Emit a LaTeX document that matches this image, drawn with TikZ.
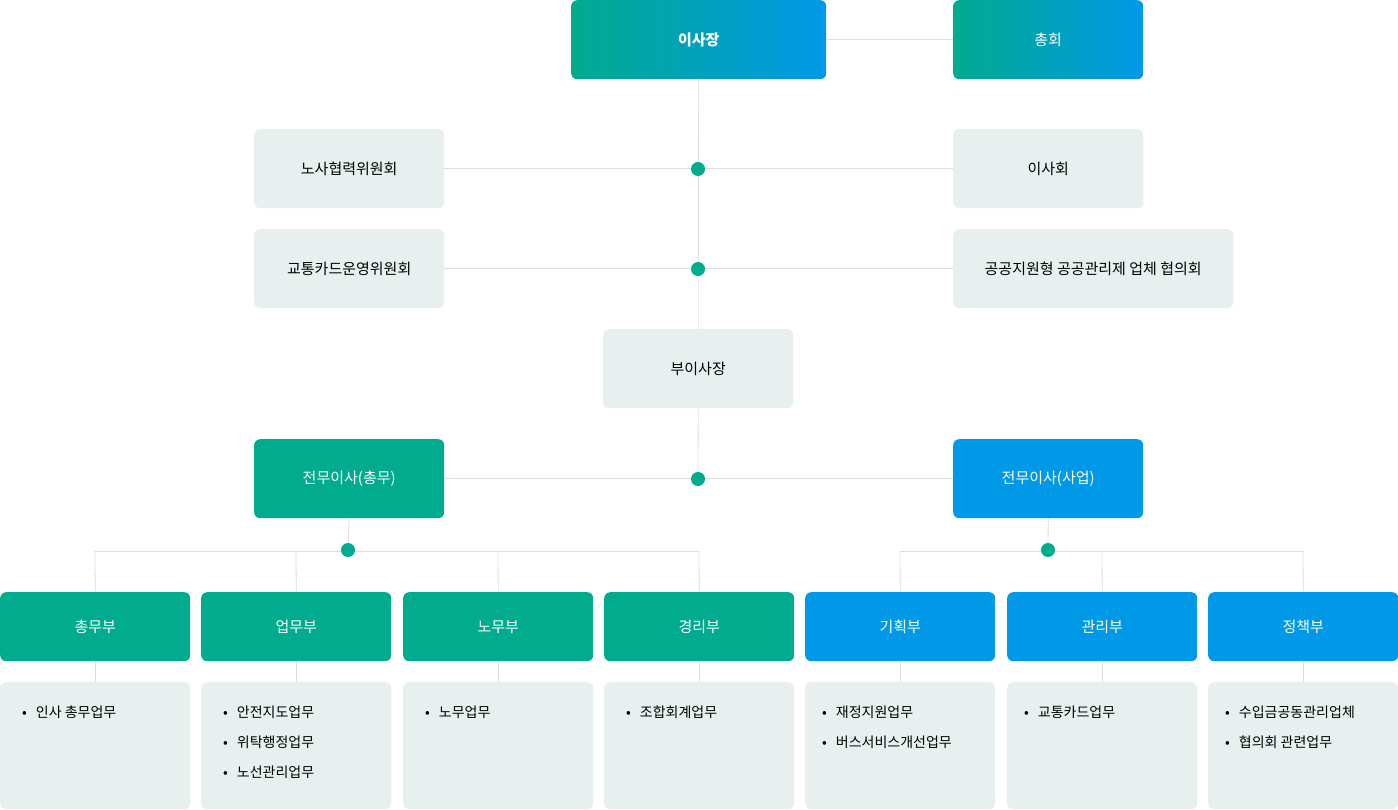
\documentclass[tikz,border=0pt]{standalone}
\usepackage{fontspec}
\setmainfont{Noto Sans CJK KR}
\definecolor{gr}{HTML}{00AB8E}
\definecolor{bl}{HTML}{0099E8}
\definecolor{lg}{HTML}{E8EFEF}
\definecolor{ln}{HTML}{DDDDDD}
\begin{document}
\begin{tikzpicture}[x=1pt,y=-1pt,
 box/.style={rounded corners=6pt,minimum height=79pt,inner sep=0pt,font=\fontsize{15}{18}\selectfont,anchor=north west},
 grad/.style={box,left color=gr,right color=bl,text=white},
 light/.style={box,fill=lg,text=black},
 gbox/.style={box,fill=gr,text=white},
 bbox/.style={box,fill=bl,text=white},
 dept/.style={box,minimum height=69pt,minimum width=190pt},
 task/.style={rounded corners=6pt,fill=lg,minimum width=190pt,minimum height=127pt,anchor=north west,inner sep=0pt},
 conn/.style={draw=ln,line width=0.8pt},
 dot/.style={circle,fill=gr,inner sep=0pt,minimum size=14pt},
 item/.style={anchor=west,font=\fontsize{14}{16}\selectfont,inner sep=0pt}]
\useasboundingbox (0,0) rectangle (1398,809);
\fill[white] (0,0) rectangle (1398,809);
\coordinate (d1) at (698,169);
\coordinate (d2) at (698,269);
\coordinate (d3) at (698,479);
\coordinate (d4) at (348,550);
\coordinate (d5) at (1048,550);
\node[grad,minimum width=255pt] (ceo) at (571,0) {\bfseries 이사장};
\node[grad,minimum width=190pt] (gm) at (953,0) {총회};
\node[light,minimum width=190pt] (labor) at (254,129) {노사협력위원회};
\node[light,minimum width=190pt] (board) at (953,129) {이사회};
\node[light,minimum width=190pt] (card) at (254,229) {교통카드운영위원회};
\node[light,minimum width=280pt] (pub) at (953,229) {공공지원형 공공관리제 업체 협의회};
\node[light,minimum width=190pt] (vp) at (603,329) {부이사장};
\node[gbox,minimum width=190pt] (ed1) at (254,439) {전무이사(총무)};
\node[bbox,minimum width=190pt] (ed2) at (953,439) {전무이사(사업)};
\node[dept,fill=gr,text=white] (p1) at (0,592) {총무부};
\node[dept,fill=gr,text=white] (p2) at (201,592) {업무부};
\node[dept,fill=gr,text=white] (p3) at (403,592) {노무부};
\node[dept,fill=gr,text=white] (p4) at (604,592) {경리부};
\node[dept,fill=bl,text=white] (p5) at (805,592) {기획부};
\node[dept,fill=bl,text=white] (p6) at (1007,592) {관리부};
\node[dept,fill=bl,text=white] (p7) at (1208,592) {정책부};
\foreach \i/\x in {1/0,2/201,3/403,4/604,5/805,6/1007,7/1208}{
  \node[task] (t\i) at (\x,682) {};
  \draw[conn] (p\i.south) -- (t\i.north);
  \coordinate (h\i) at (\x+95,551);
  \draw[conn] (h\i) -- (p\i.north);
}
\draw[conn] (ceo) -- (gm);
\draw[conn] (ceo.south) -- (vp.north);
\draw[conn] (labor.east) -- (board.west);
\draw[conn] (card.east) -- (pub.west);
\draw[conn] (vp.south) -- (d3);
\draw[conn] (ed1.east) -- (ed2.west);
\draw[conn] (h1) -- (h4);
\draw[conn] (h5) -- (h7);
\draw[conn] (ed1.south) -- (d4);
\draw[conn] (ed2.south) -- (d5);
\foreach \d in {d1,d2,d3,d4,d5}{\node[dot] at (\d) {};}
\newcommand\itm[3]{\node[item] at (#1,#2) {\textbullet\hspace{9pt}#3};}
\itm{22}{712}{인사 총무업무}
\itm{223}{712}{안전지도업무}
\itm{223}{742}{위탁행정업무}
\itm{223}{772}{노선관리업무}
\itm{425}{712}{노무업무}
\itm{626}{712}{조합회계업무}
\itm{822}{712}{재정지원업무}
\itm{822}{742}{버스서비스개선업무}
\itm{1024}{712}{교통카드업무}
\itm{1225}{712}{수입금공동관리업체}
\itm{1225}{742}{협의회 관련업무}
\end{tikzpicture}
\end{document}
